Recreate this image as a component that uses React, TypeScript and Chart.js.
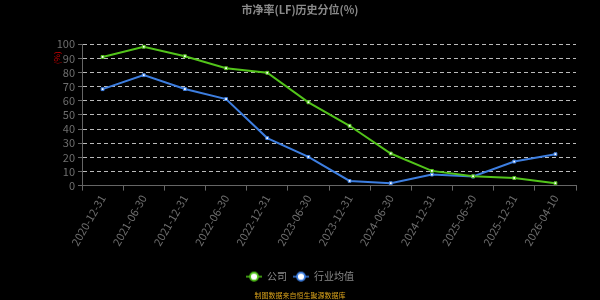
import React, { useEffect, useRef } from "react";
import { Chart, registerables } from "chart.js";

Chart.register(...registerables);

const categories = [
  "2020-12-31", "2021-06-30", "2021-12-31", "2022-06-30", "2022-12-31", "2023-06-30",
  "2023-12-31", "2024-06-30", "2024-12-31", "2025-06-30", "2025-12-31", "2026-04-10",
];
const companyValues = [91, 98.2, 91.5, 83, 79.8, 58.9, 42.3, 22.7, 10.4, 6.6, 5.4, 1.7];
const industryValues = [68.2, 78.1, 68.3, 61.2, 33.6, 20.3, 3.3, 1.7, 7.8, 6.4, 17, 22.2];
const seriesNames = ["公司", "行业均值"];
const titleText = "市净率(LF)历史分位(%)";
const footerText = "制图数据来自恒生聚源数据库";

const GREEN = "#52c41a";
const BLUE = "#3d7ee0";
const FONT = "'Noto Sans CJK SC', 'Noto Sans', sans-serif";

function legendIcon(color: string): HTMLCanvasElement {
  const c = document.createElement("canvas");
  c.width = 16;
  c.height = 12;
  const ctx = c.getContext("2d")!;
  ctx.strokeStyle = color;
  ctx.lineWidth = 1.5;
  ctx.beginPath();
  ctx.moveTo(0, 6);
  ctx.lineTo(16, 6);
  ctx.stroke();
  ctx.beginPath();
  ctx.arc(8, 6, 4, 0, Math.PI * 2);
  ctx.fillStyle = "#fff";
  ctx.fill();
  ctx.lineWidth = 1.8;
  ctx.stroke();
  return c;
}

export default function App() {
  const ref = useRef<HTMLCanvasElement>(null);
  useEffect(() => {
    document.body.style.margin = "0";
    const icons = [legendIcon(GREEN), legendIcon(BLUE)];
    const chart = new Chart(ref.current!, {
      type: "line",
      data: {
        labels: categories,
        datasets: [
          {
            label: seriesNames[0],
            data: companyValues,
            borderColor: GREEN,
            backgroundColor: "#fff",
            borderWidth: 2,
            pointStyle: "rect",
            pointRadius: 2,
            pointBorderColor: GREEN,
            pointBorderWidth: 1,
            pointBackgroundColor: "#fff",
          },
          {
            label: seriesNames[1],
            data: industryValues,
            borderColor: BLUE,
            backgroundColor: "#fff",
            borderWidth: 2,
            pointStyle: "rect",
            pointRadius: 2,
            pointBorderColor: BLUE,
            pointBorderWidth: 1,
            pointBackgroundColor: "#fff",
          },
        ],
      },
      options: {
        animation: false,
        responsive: true,
        maintainAspectRatio: false,
        layout: { padding: 0 },
        plugins: {
          title: {
            display: true,
            text: titleText,
            color: "#8a8a8a",
            font: { family: FONT, size: 11, weight: "bold" },
            padding: { top: 3, bottom: 28 },
          },
          subtitle: {
            display: true,
            text: footerText,
            position: "bottom",
            color: "#d9a21b",
            font: { family: FONT, size: 7 },
            padding: { top: 0, bottom: 0 },
            weight: 3000,
          } as any,
          legend: {
            position: "bottom",
            labels: {
              color: "#8a8a8a",
              font: { family: FONT, size: 10 },
              usePointStyle: true,
              pointStyleWidth: 16,
              boxWidth: 16,
              boxHeight: 12,
              padding: 6,
              generateLabels: (ch: any) =>
                ch.data.datasets.map((ds: any, i: number) => ({
                  text: ds.label,
                  pointStyle: icons[i],
                  fontColor: "#8a8a8a",
                  datasetIndex: i,
                  hidden: false,
                  lineWidth: 0,
                })),
            },
          },
          tooltip: { enabled: false },
        },
        scales: {
          x: {
            offset: true,
            grid: {
              drawOnChartArea: false,
              drawTicks: true,
              tickLength: 5,
              color: "#666",
              offset: true,
            },
            border: { display: true, color: "#666" },
            ticks: {
              color: "#6e6e6e",
              font: { family: FONT, size: 11 },
              maxRotation: 60,
              minRotation: 60,
              autoSkip: false,
              padding: 2,
            },
            afterFit: (s: any) => {
              s.height = 80;
            },
          },
          y: {
            min: 0,
            max: 100,
            ticks: {
              stepSize: 10,
              autoSkip: false,
              color: "#6e6e6e",
              font: { family: FONT, size: 11 },
              padding: 3,
            },
            grid: {
              color: "#bbbbbb",
              drawTicks: true,
              tickLength: 4,
              tickColor: "#666",
            },
            border: { display: true, color: "#666", dash: [4, 3] },
            title: {
              display: true,
              text: "(%)    ",
              color: "#cc0000",
              align: "end",
              font: { family: FONT, size: 8 },
              padding: { top: 52, bottom: 0 },
            },
            afterFit: (s: any) => {
              s.width = 82;
            },
          },
          yRightSpace: {
            position: "right",
            display: true,
            min: 0,
            max: 100,
            grid: { display: false, drawTicks: false },
            border: { display: false },
            ticks: { display: false },
            afterFit: (s: any) => {
              s.width = 24;
            },
          },
        },
      },
    } as any);
    return () => chart.destroy();
  }, []);
  return (
    <div style={{ position: "fixed", left: 0, top: 0, width: 600, height: 300, background: "#000" }}>
      <canvas ref={ref} />
    </div>
  );
}
